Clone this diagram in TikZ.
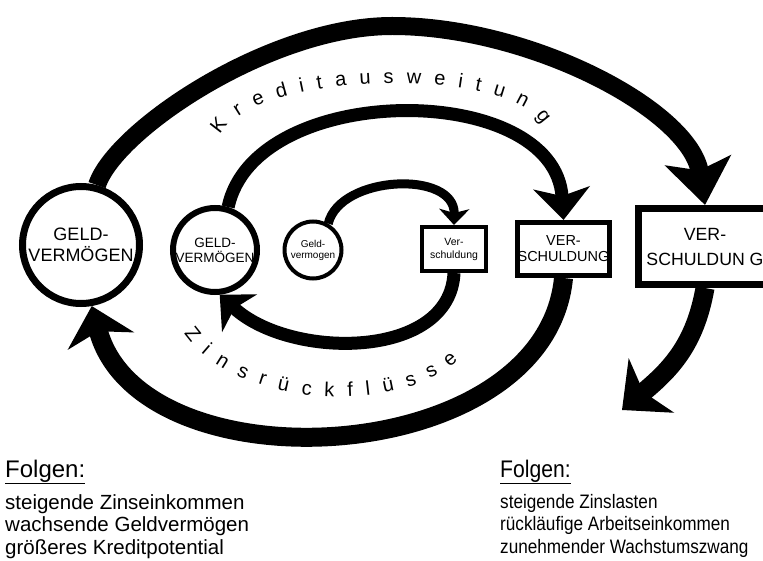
\documentclass[tikz,border=0pt]{standalone}
\usepackage{fontspec}
\setmainfont{Liberation Sans}
\newfontfamily\schmal[FakeStretch=0.88]{Liberation Sans}
\usetikzlibrary{arrows.meta,decorations.text}

\newcommand\bogenschrift{\fontsize{20}{20}\selectfont}

\tikzset{
  geld/.style={draw,circle,fill=white,align=center,inner sep=0pt},
  schuld/.style={draw,rectangle,fill=white,align=center,inner sep=0pt},
  folgen/.style={anchor=north west,align=left,inner sep=0pt},
}

\begin{document}
\begin{tikzpicture}[x=1pt,y=-1pt]
\useasboundingbox (0,0) rectangle (763,561);

% Geldvermoegen
\node(geldA)[geld,line width=7pt,minimum size=117pt,font=\fontsize{18}{21}\selectfont] at (81,245) {GELD-\\VERMÖGEN};
\node(geldB)[geld,line width=6pt,minimum size=84pt,font=\fontsize{13.5}{15}\selectfont] at (215,250) {GELD-\\VERMÖGEN};
\node(geldC)[geld,line width=4pt,minimum size=57pt,font=\fontsize{10}{11}\selectfont] at (313,250) {Geld-\\vermogen};

% Verschuldung
\node(schuldC)[schuld,line width=4pt,minimum width=64pt,minimum height=44pt,font=\fontsize{10.5}{13}\selectfont] at (454,249) {Ver-\\schuldung};
\node(schuldB)[schuld,line width=5pt,minimum width=92pt,minimum height=53pt,font=\fontsize{14.5}{16}\selectfont] at (563.5,249) {VER-\\SCHULDUNG};
\node(schuldA)[schuld,line width=7pt,minimum width=133pt,minimum height=76pt,font=\fontsize{17.7}{25}\selectfont] at (705,246.5) {VER-\\SCHULDUN G};
\coordinate(auslauf) at (622,410);

% Arrows
\draw[line width=18pt,-{Stealth[length=45pt,width=66pt,inset=10pt]}] (geldA.75) .. controls (115,130) and (270,26) .. (392,26) .. controls (530,26) and (690,110) .. (schuldA.north);
\draw[line width=13pt,-{Stealth[length=32pt,width=56pt,inset=8pt]}] (geldB.73) .. controls (255,80) and (555,80) .. (schuldB.north);
\draw[line width=9pt,-{Stealth[length=16pt,width=30pt,inset=4pt]}] (geldC.60) .. controls (340,175) and (455,170) .. (schuldC.north);
\draw[line width=13pt,-{Stealth[length=27pt,width=51pt,inset=7pt]}] (schuldC.south) .. controls (450,360) and (290,360) .. (geldB.-84);
\draw[line width=19pt,-{Stealth[length=36pt,width=68pt,inset=10pt]}] (schuldB.south) .. controls (545,470) and (140,490) .. (geldA.-80);
\draw[line width=19pt,-{Stealth[length=38pt,width=70pt,inset=10pt]}] (schuldA.south) .. controls (695,345) and (670,370) .. (auslauf);

% Beschriftung der Boegen
\path[decorate,decoration={text along path,text={|\bogenschrift|Kreditausweitung},text align={fit to path}}] (220,135) .. controls (255,70) and (510,66) .. (542,124);
\path[decorate,decoration={text along path,text={|\bogenschrift|Zinsrückflüsse},text align={fit to path}}] (184,333) .. controls (238,410) and (400,415) .. (458,360);

% Folgen
\node(folgenL)[anchor=base west,inner sep=0pt,font=\fontsize{24}{26}\selectfont] at (5,477) {\underline{Folgen:}};
\node(listeL)[folgen,font=\fontsize{20.5}{22.5}\selectfont] at (5,494) {steigende Zinseinkommen\\wachsende Geldvermögen\\größeres Kreditpotential};
\node(folgenR)[anchor=base west,inner sep=0pt,font=\schmal\fontsize{24}{26}\selectfont] at (500,477) {\underline{Folgen:}};
\node(listeR)[folgen,font=\schmal\fontsize{19.5}{22.5}\selectfont] at (500,494) {steigende Zinslasten\\rückläufige Arbeitseinkommen\\zunehmender Wachstumszwang};
\end{tikzpicture}
\end{document}
